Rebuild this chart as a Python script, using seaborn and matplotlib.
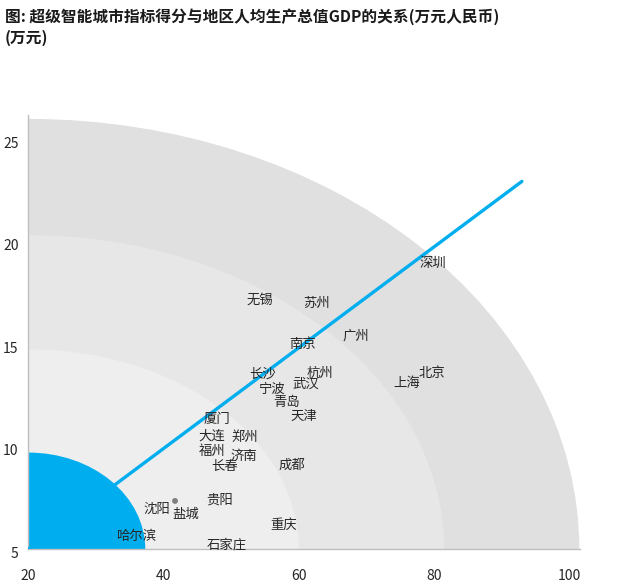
import matplotlib
matplotlib.use("Agg")
import matplotlib.pyplot as plt
from matplotlib.patches import Ellipse
import matplotlib.transforms as mtransforms
import seaborn as sns
import pandas as pd

# ---- data ----
cities = ["深圳", "无锡", "苏州", "广州", "南京", "北京", "上海", "长沙", "杭州", "宁波",
          "武汉", "青岛", "天津", "厦门", "大连", "郑州", "福州", "济南", "长春", "成都",
          "贵阳", "沈阳", "盐城", "重庆", "哈尔滨", "石家庄"]
score = [79.9, 54.3, 62.6, 68.5, 60.5, 79.7, 76.0, 54.7, 63.2, 56.0,
         61.1, 58.2, 60.8, 47.9, 47.2, 52.1, 47.2, 51.9, 49.1, 59.0,
         48.3, 39.0, 43.3, 57.7, 36.0, 49.4]
gdp = [19.1, 17.3, 17.15, 15.55, 15.15, 13.75, 13.25, 13.72, 13.75, 12.98,
       13.2, 12.33, 11.66, 11.5, 10.7, 10.6, 9.95, 9.7, 9.2, 9.25,
       7.55, 7.1, 6.85, 6.3, 5.8, 5.35]
marker_x = [41.7]
marker_y = [7.36]
trend_x = [20, 93.0]
trend_y = [5, 22.95]
band_rx = [81.5, 61.5, 40.0, 17.3]
band_ry = [21.0, 15.33, 9.76, 4.72]
band_colors = ["#e0e0e0", "#e8e7e8", "#eeeeee", "#00aeef"]
xticks = [20, 40, 60, 80, 100]
yticks = [5, 10, 15, 20, 25]

sns.set_style("white")
plt.rcParams['font.family'] = ['Noto Sans CJK SC', 'DejaVu Sans']

fig = plt.figure(figsize=(6.21, 5.84), dpi=100)
ax = fig.add_axes([0.0456, 0.0594, 0.8884, 0.744])
ax.set_xlim(20, 101.6)
ax.set_ylim(5, 26.2)

for rx, ry, c in zip(band_rx, band_ry, band_colors):
    ax.add_patch(Ellipse((20, 5), 2 * rx, 2 * ry, facecolor=c, edgecolor='none', zorder=1))

line_df = pd.DataFrame({"x": trend_x, "y": trend_y})
sns.lineplot(data=line_df, x="x", y="y", ax=ax, color="#00aeef", linewidth=2.4, zorder=3)

mk_df = pd.DataFrame({"x": marker_x, "y": marker_y})
sns.scatterplot(data=mk_df, x="x", y="y", ax=ax, color="#7f7f7f", s=18, edgecolor='none', zorder=4)

shift = mtransforms.ScaledTranslation(0, -2 / 72, fig.dpi_scale_trans)
for name, xv, yv in zip(cities, score, gdp):
    ax.text(xv, yv, name, ha='center', va='center', fontsize=9.6, color='#262626', zorder=5,
            transform=ax.transData + shift)

ax.set_xticks(xticks)
ax.set_yticks(yticks)
ax.tick_params(axis='both', length=0, labelsize=10, colors='#262626')
ax.tick_params(axis='x', pad=14)
ax.tick_params(axis='y', pad=7)
for lbl in ax.get_yticklabels():
    lbl.set_transform(lbl.get_transform() + mtransforms.ScaledTranslation(0, -2 / 72, fig.dpi_scale_trans))
ax.set_xlabel("")
ax.set_ylabel("")
for s in ['top', 'right']:
    ax.spines[s].set_visible(False)
for s in ['left', 'bottom']:
    ax.spines[s].set_color('#bfbfbf')
    ax.spines[s].set_linewidth(1.0)

fig.text(0.008, 0.971, "图: 超级智能城市指标得分与地区人均生产总值GDP的关系(万元人民币)",
         fontsize=11.3, fontweight='bold', ha='left', va='center', color='#1a1a1a')
fig.text(0.008, 0.935, "(万元)", fontsize=11.3, fontweight='bold', ha='left', va='center', color='#1a1a1a')

fig.savefig("out.png", dpi=100)
